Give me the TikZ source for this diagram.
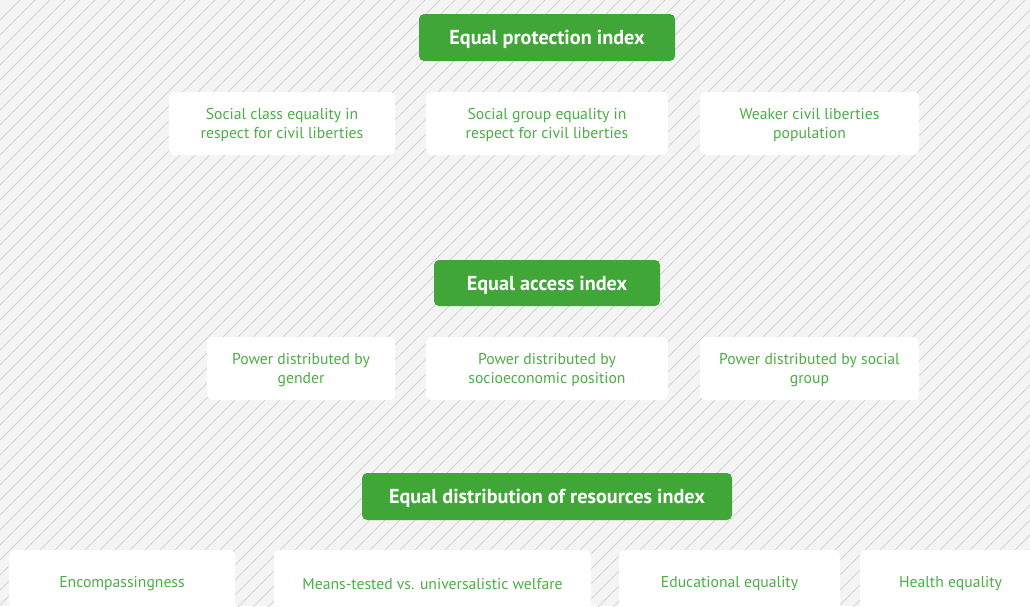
\documentclass[tikz,border=0pt]{standalone}
\usepackage{fontspec}
\setmainfont{PT Sans}
\definecolor{bg}{HTML}{F4F4F4}
\definecolor{hatch}{HTML}{D4D4D4}
\definecolor{gfill}{HTML}{40A638}
\definecolor{gtext}{HTML}{4BAE45}
\newcommand{\st}{\rule{0pt}{14.6pt}}
\tikzset{
  titlebox/.style={rectangle, rounded corners=5pt, fill=gfill, text=white, font=\fontsize{20.2}{23}\selectfont\bfseries, inner sep=0pt, text height=14pt, text depth=0pt},
  itembox/.style={rectangle, rounded corners=6pt, fill=white, text=gtext, font=\fontsize{15.7}{19.5}\selectfont, inner sep=0pt, align=center},
}
\begin{document}
\begin{tikzpicture}[x=1pt,y=-1pt]
\useasboundingbox (0,0) rectangle (1030,606);
\clip (0,0) rectangle (1030,606);
\fill[bg] (0,0) rectangle (1030,606);
\foreach \k in {-40,...,110} {
  \draw[hatch, line width=1pt] (\k*15,620) -- (\k*15+640,-20);
}
% titles
\node[titlebox, minimum width=256pt, minimum height=47pt] (t1) at (547,37.5) {Equal protection index};
\node[titlebox, minimum width=226pt, minimum height=46pt] (t2) at (547,283) {Equal access index};
\node[titlebox, minimum width=370pt, minimum height=47pt] (t3) at (547,496.5) {Equal distribution of resources index};
% row 1
\node[itembox, minimum width=226pt, minimum height=63pt] (a1) at (282,123.5) {\st Social class equality in\\respect for civil liberties};
\node[itembox, minimum width=242pt, minimum height=63pt] (a2) at (547,123.5) {\st Social group equality in\\respect for civil liberties};
\node[itembox, minimum width=219pt, minimum height=63pt] (a3) at (809.5,123.5) {\st Weaker civil liberties\\population};
% row 2
\node[itembox, minimum width=188pt, minimum height=63pt] (b1) at (301,368.5) {\st Power distributed by\\gender};
\node[itembox, minimum width=242pt, minimum height=63pt] (b2) at (547,368.5) {\st Power distributed by\\socioeconomic position};
\node[itembox, minimum width=219pt, minimum height=63pt] (b3) at (809.5,368.5) {\st Power distributed by social\\group};
% row 3
\node[itembox, minimum width=226pt, minimum height=64pt] (c1) at (122,582) {\st Encompassingness};
\node[itembox, minimum width=317pt, minimum height=64pt] (c2) at (432.5,582) {\st Means-tested vs. universalistic welfare};
\node[itembox, minimum width=221pt, minimum height=64pt] (c3) at (729.5,582) {\st Educational equality};
\node[itembox, minimum width=181pt, minimum height=64pt] (c4) at (950.5,582) {\st Health equality};
\end{tikzpicture}
\end{document}
